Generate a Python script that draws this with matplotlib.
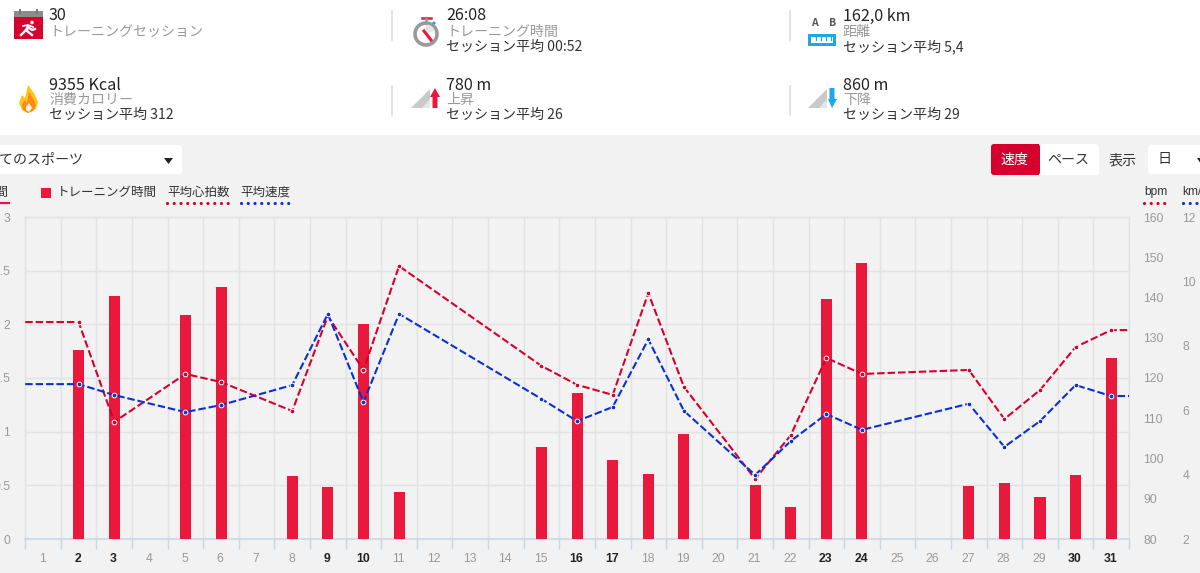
import numpy as np
import matplotlib
matplotlib.use('Agg')
import matplotlib.pyplot as plt
from matplotlib.patches import Rectangle, FancyBboxPatch, Polygon, Circle, Wedge

plt.rcParams['font.family'] = ['Noto Sans CJK JP', 'DejaVu Sans']

# data
days = list(range(1, 32))
bold_days = [2, 3, 9, 10, 16, 17, 23, 24, 30, 31]

bar_days = [2, 3, 5, 6, 8, 9, 10, 11, 15, 16, 17, 18, 19, 21, 22, 23, 24, 27, 28, 29, 30, 31]
train_hours = [1.76, 2.265, 2.09, 2.35, 0.59, 0.485, 2.0, 0.44, 0.86, 1.36, 0.74,
               0.61, 0.98, 0.5, 0.3, 2.24, 2.57, 0.49, 0.52, 0.39, 0.6, 1.69]
heart_rate = [133.9, 109.1, 121.0, 119.0, 111.8, 135.4, 122.0, 147.8, 123.0, 118.3, 115.8,
              141.1, 117.8, 94.9, 105.8, 125.0, 121.0, 122.0, 109.8, 117.0, 127.7, 131.9]
speed = [6.81, 6.47, 5.94, 6.16, 6.78, 8.99, 6.25, 8.99, 6.35, 5.66, 6.1,
         8.2, 5.98, 3.99, 5.04, 5.88, 5.39, 6.2, 4.86, 5.66, 6.78, 6.44]

hour_ticks = [0, 0.5, 1, 1.5, 2, 2.5, 3]
hour_labels = ['0', '0.5', '1', '1.5', '2', '2.5', '3']
bpm_ticks = [80, 90, 100, 110, 120, 130, 140, 150, 160]
speed_ticks = [2, 4, 6, 8, 10, 12]

stats_col_x = [49, 446, 843]
stats_top = [('30', 'トレーニングセッション', ''),
             ('26:08', 'トレーニング時間', 'セッション平均 00:52'),
             ('162,0 km', '距離', 'セッション平均 5,4')]
stats_bottom = [('9355 Kcal', '消費カロリー', 'セッション平均 312'),
                ('780 m', '上昇', 'セッション平均 26'),
                ('860 m', '下降', 'セッション平均 29')]

RED = '#e8193c'
LINE_RED = '#d5002e'
LINE_BLUE = '#0a30d2'
BG = '#f2f2f2'
GRID = '#e2e2e2'
AXIS = '#c9d6e4'
GREY = '#999999'
W, H = 1200, 573

fig = plt.figure(figsize=(W / 100, H / 100), dpi=100, facecolor=BG)

# page furniture in pixel coords
page = fig.add_axes([0, 0, 1, 1], zorder=0)
page.set_xlim(0, W)
page.set_ylim(H, 0)
page.axis('off')
page.add_patch(Rectangle((0, 0), W, 135, fc='white', ec='none'))

for row, ys in zip([stats_top, stats_bottom], [(16, 32, 47), (85, 100, 115)]):
    for x, (val, lab, avg) in zip(stats_col_x, row):
        page.text(x, ys[0], val, fontsize=11.6, color='#222222', va='center')
        page.text(x, ys[1], lab, fontsize=10.1, color=GREY, va='center')
        if avg:
            page.text(x, ys[2], avg, fontsize=10.1, color='#333333', va='center')

for x in [392, 790]:
    page.plot([x, x], [11, 40], color='#dddddd', lw=1.2)
    page.plot([x, x], [86, 115], color='#dddddd', lw=1.2)

# calendar icon
page.add_patch(Rectangle((14, 11), 29, 6, fc='#8c8c8c', ec='none'))
page.add_patch(Rectangle((14, 17), 29, 22, fc='#d7002e', ec='none'))
for x in [20, 37]:
    page.add_patch(Rectangle((x - 1, 9), 2, 5, fc='#777777', ec='none'))
page.plot([21, 25, 28, 32, 35], [35, 31, 27, 30, 29], color='white', lw=1.7)
page.plot([28, 27, 32], [26, 31, 35], color='white', lw=1.7)
page.plot([23, 28, 33], [26, 25, 27], color='white', lw=1.3)
page.add_patch(Circle((32, 22.5), 1.8, fc='white', ec='none'))

# flame icon
page.add_patch(Polygon([(28, 85), (34, 93), (38, 102), (36, 109), (28, 113), (22, 110),
                        (19, 103), (22, 95), (25, 98)], fc='#ffc61a', ec='none'))
page.add_patch(Polygon([(29, 92), (34, 100), (36, 106), (33, 111), (28, 113), (23, 110),
                        (22, 104), (25, 100), (27, 103)], fc='#ff8a1a', ec='none'))
page.add_patch(Polygon([(29, 103), (32, 108), (29, 112), (26, 110), (26, 107)], fc='#fff4dd', ec='none'))

# stopwatch icon
page.add_patch(Circle((426, 34), 11, fc='white', ec='#999999', lw=2.6))
page.add_patch(Wedge((426, 34), 9.5, 270, 340, fc='#e5e5e5', ec='none'))
page.plot([422, 431], [18, 18], color=RED, lw=1.8)
page.plot([426, 426], [19, 23], color='#999999', lw=1.8)
page.plot([424, 431], [31, 40], color=RED, lw=2.2)
page.add_patch(Circle((434, 23), 1.6, fc='#1ea7e8', ec='none'))

# ruler icon
page.text(814, 23, 'A', fontsize=7.5, fontweight='bold', color='#555555', ha='center', va='center')
page.text(833, 23, 'B', fontsize=7.5, fontweight='bold', color='#555555', ha='center', va='center')
page.add_patch(Rectangle((808, 34), 28, 12, fc='#1ea7e8', ec='none'))
page.add_patch(Rectangle((811, 37), 22, 6, fc='white', ec='none'))
for x in [816, 821, 826, 831]:
    page.plot([x, x], [37, 40], color='#1ea7e8', lw=0.9)

# climb and descent icons
for x0, col, up in [(411, RED, True), (808, '#1ea7e8', False)]:
    page.add_patch(Polygon([(x0, 108), (x0 + 19, 89), (x0 + 19, 108)], fc='#c9c9c9', ec='none'))
    page.add_patch(Polygon([(x0 + 11, 108), (x0 + 19, 99), (x0 + 19, 108)], fc='#e6e6e6', ec='none'))
    if up:
        page.add_patch(Polygon([(x0 + 24, 88), (x0 + 29, 97), (x0 + 26.5, 97), (x0 + 26.5, 108),
                                (x0 + 21.5, 108), (x0 + 21.5, 97), (x0 + 19, 97)], fc=col, ec='none'))
    else:
        page.add_patch(Polygon([(x0 + 24, 108), (x0 + 29, 99), (x0 + 26.5, 99), (x0 + 26.5, 88),
                                (x0 + 21.5, 88), (x0 + 21.5, 99), (x0 + 20, 99)], fc=col, ec='none'))


def box(x0, y0, x1, y1, color):
    page.add_patch(FancyBboxPatch((x0 + 3, y0 + 3), x1 - x0 - 6, y1 - y0 - 6,
                                  boxstyle='round,pad=3', fc=color, ec='none'))


# dropdowns and buttons
box(-20, 145, 182, 174, 'white')
page.text(84, 159.5, 'すべてのスポーツ', fontsize=10.1, color='#333333', ha='right', va='center')
page.add_patch(Polygon([(164, 158), (173, 158), (168.5, 164)], fc='#222222', ec='none'))
box(1030, 144, 1099, 175, 'white')
box(991, 144, 1040, 175, '#d5002e')
page.add_patch(Rectangle((1036, 144), 3, 31, fc='#d5002e', ec='none'))
page.text(1015, 159.5, '速度', fontsize=10.1, color='white', ha='center', va='center')
page.text(1068, 159.5, 'ペース', fontsize=10.1, color='#333333', ha='center', va='center')
page.text(1123, 160.5, '表示', fontsize=10.1, color='#333333', ha='center', va='center')
box(1148, 145, 1230, 174, 'white')
page.text(1165, 159.5, '日', fontsize=10.1, color='#333333', ha='center', va='center')
page.add_patch(Polygon([(1197, 158), (1206, 158), (1201, 164)], fc='#222222', ec='none'))

# legend row
page.text(9, 192, 'トレーニング時間', fontsize=9, color='#333333', ha='right', va='center')
page.plot([0, 9], [203, 203], color=RED, lw=1.6)
page.add_patch(Rectangle((41, 188), 10, 10, fc=RED, ec='none'))
page.text(57, 192, 'トレーニング時間', fontsize=9, color='#333333', va='center')
page.text(167, 192, '平均心拍数', fontsize=9, color='#333333', va='center')
page.text(240, 192, '平均速度', fontsize=9, color='#333333', va='center')
page.text(1144, 192, 'bpm', fontsize=8.6, color='#333333', family='Liberation Sans', va='center')
page.text(1182, 192, 'km/h', fontsize=8.6, color='#333333', family='Liberation Sans', va='center')
for x0, x1, col in [(167, 230, LINE_RED), (241, 290, LINE_BLUE), (1144, 1167, LINE_RED), (1183, 1200, LINE_BLUE)]:
    page.plot([x0, x1], [203, 203], color=col, lw=2.3, ls=(0, (0.01, 2.1)), dash_capstyle='round')

# the chart
left, right, top, bottom = 25.2, 1129.0, 217.0, 539.0
ax = fig.add_axes([left / W, 1 - bottom / H, (right - left) / W, (bottom - top) / H], zorder=1)
ax.set_facecolor('none')
ax.set_xlim(0.5, 31.5)
ax.set_ylim(0, 3)
ax.bar(bar_days, train_hours, width=0.31, color=RED, edgecolor='none', zorder=3)

ax.set_yticks(hour_ticks)
ax.set_yticklabels(hour_labels, family='Liberation Sans', fontsize=8.8, color=GREY)
ax.tick_params(axis='y', length=0, pad=10.8)
ax.grid(axis='y', color=GRID, lw=1.0, zorder=0)

ax.set_xticks([d + 0.5 for d in [0] + days])
ax.set_xticklabels([])
ax.tick_params(axis='x', length=7, width=1, color=AXIS)
ax.grid(axis='x', color=GRID, lw=1.0, zorder=0)
ax.set_axisbelow(True)
for d in days:
    wknd = d in bold_days
    ax.annotate(str(d), (d, 0), xytext=(-0.6, -14.4), textcoords='offset points', ha='center', va='center',
                family='Liberation Sans', fontsize=8.8, fontweight='bold' if wknd else 'normal',
                color='#222222' if wknd else GREY, annotation_clip=False)
for s in ['top', 'left', 'right']:
    ax.spines[s].set_color(GRID)
    ax.spines[s].set_linewidth(1.0)
ax.spines['bottom'].set_color(AXIS)
ax.spines['bottom'].set_linewidth(1.1)

# lines run flat out to both plot edges
line_x = [0.5] + bar_days + [31.5]
mark_idx = list(range(1, len(bar_days) + 1))


def draw_line(a, vals, color):
    a.plot(line_x, [vals[0]] + vals + [vals[-1]], color=color, lw=1.5, ls=(0, (3.6, 1.4)),
           marker='o', markevery=mark_idx, ms=3.4, mfc=color, mec='white', mew=0.7, zorder=5)


ax_bpm = ax.twinx()
ax_bpm.set_ylim(80, 160)
ax_bpm.set_yticks(bpm_ticks)
ax_bpm.set_yticklabels(bpm_ticks, family='Liberation Sans', fontsize=8.8, color=GREY)
ax_bpm.tick_params(axis='y', length=0, pad=10.3)
ax_bpm.patch.set_visible(False)
for s in ax_bpm.spines.values():
    s.set_visible(False)
draw_line(ax_bpm, heart_rate, LINE_RED)

ax_speed = ax.twinx()
ax_speed.set_ylim(2, 12)
ax_speed.set_yticks(speed_ticks)
ax_speed.set_yticklabels(speed_ticks, family='Liberation Sans', fontsize=8.8, color=GREY)
ax_speed.tick_params(axis='y', length=0, pad=38.5)
ax_speed.patch.set_visible(False)
for s in ax_speed.spines.values():
    s.set_visible(False)
draw_line(ax_speed, speed, LINE_BLUE)

fig.savefig('out.png', dpi=100, facecolor=BG)
